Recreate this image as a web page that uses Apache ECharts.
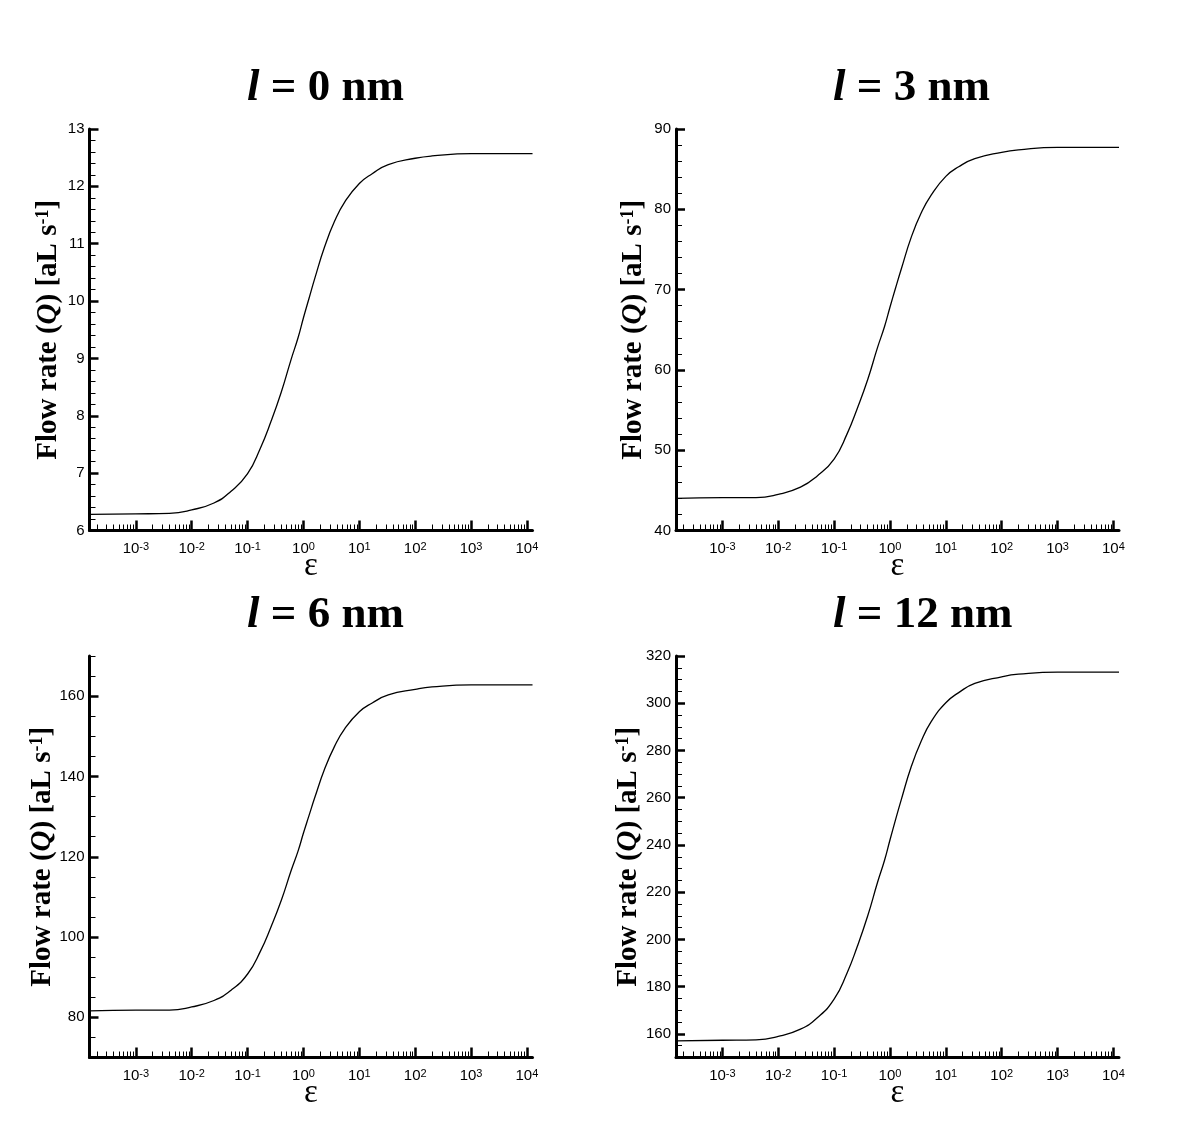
<!DOCTYPE html>
<html>
<head>
<meta charset="utf-8">
<title>Flow rate vs epsilon</title>
<script src="https://cdn.jsdelivr.net/npm/echarts@6/dist/echarts.min.js"></script>
<style>
  html, body { margin: 0; padding: 0; background: #fff; }
  #chart { width: 1200px; height: 1142px; }
</style>
</head>
<body>
<div id="chart"></div>
<script>
// epsilon samples
const epsilon = [1.5e-4, 1e-3, 4e-3, 0.01, 0.025, 0.05, 0.1, 0.17, 0.26, 0.4, 0.6, 0.8, 1, 1.26, 1.6, 2.4, 3.6, 5.5, 10, 17, 33, 100, 200, 1000, 12600]

// flow rate Q [aL s^-1] for each slip length l
const flowL0 = [6.28, 6.29, 6.30, 6.36, 6.48, 6.68, 6.99, 7.44, 7.89, 8.41, 8.98, 9.36, 9.71, 10.05, 10.40, 10.95, 11.39, 11.73, 12.05, 12.22, 12.38, 12.49, 12.53, 12.57, 12.57]
const flowL3 = [44.0, 44.1, 44.1, 44.5, 45.4, 46.8, 48.9, 52.0, 55.2, 58.8, 62.8, 65.4, 67.8, 70.2, 72.6, 76.5, 79.5, 81.8, 84.1, 85.3, 86.3, 87.1, 87.4, 87.7, 87.7]
const flowL6 = [81.6, 81.8, 81.8, 82.6, 84.2, 86.7, 90.8, 96.5, 102.4, 109.1, 116.5, 121.4, 125.9, 130.3, 134.8, 141.9, 147.5, 151.9, 156.1, 158.3, 160.3, 161.7, 162.3, 162.8, 162.8]
const flowL12 = [157.0, 157.3, 157.5, 158.9, 162.0, 166.8, 174.7, 185.7, 197.0, 210.0, 224.2, 233.5, 242.1, 250.7, 259.3, 273.1, 283.8, 292.3, 300.2, 304.5, 308.4, 311.2, 312.3, 313.2, 313.2]

const slipLengths = ['0', '3', '6', '12']

// x tick labels are powers of ten
const decades = [-3, -2, -1, 0, 1, 2, 3, 4]

// y axis ranges and labelled ticks
const yRange0 = [6, 13]
const yRange3 = [40, 90]
const yRange6 = [70, 170]
const yRange12 = [150, 320]
const yLabels0 = [6, 7, 8, 9, 10, 11, 12, 13]
const yLabels3 = [40, 50, 60, 70, 80, 90]
const yLabels6 = [80, 100, 120, 140, 160]
const yLabels12 = [160, 180, 200, 220, 240, 260, 280, 300, 320]
const yMinorStep = [0.2, 2, 5, 5]

const series = [flowL0, flowL3, flowL6, flowL12]
const yRanges = [yRange0, yRange3, yRange6, yRange12]
const yLabels = [yLabels0, yLabels3, yLabels6, yLabels12]

// layout
const xMin = -3.83
const xMax = 4.1
const panels = [
  { left: 89.5, top: 129, titleLeft: 242, titleTop: 61, nameGap: 26 },
  { left: 676, top: 129, titleLeft: 828, titleTop: 61, nameGap: 28 },
  { left: 89.5, top: 656, titleLeft: 242, titleTop: 588, nameGap: 32 },
  { left: 676, top: 656, titleLeft: 828, titleTop: 588, nameGap: 33 }
]
const plotW = 443
const plotH = 401.5

const sansFont = 'Liberation Sans'
const serifFont = 'Liberation Serif'

const minorDecadeTicks = []
for (let n = -4; n <= 4; n++) {
  for (let k = 2; k <= 9; k++) {
    const v = Math.log10(k * Math.pow(10, n))
    if (v > xMin && v < xMax) minorDecadeTicks.push(v)
  }
}

const minorTicksFor = (range, step) => {
  const out = []
  const count = Math.round((range[1] - range[0]) / step)
  for (let i = 0; i <= count; i++) {
    out.push(Math.round((range[0] + i * step) * 1000) / 1000)
  }
  return out
}

const axisLine = { show: true, onZero: false, lineStyle: { color: '#000', width: 3 } }

const option = {
  animation: false,
  backgroundColor: '#fff',
  title: [],
  grid: [],
  xAxis: [],
  yAxis: [],
  series: []
}

panels.forEach((p, i) => {
  option.title.push({
    text: '{i|l} = ' + slipLengths[i] + ' nm',
    left: p.titleLeft,
    top: p.titleTop,
    textStyle: {
      fontFamily: serifFont,
      fontWeight: 'bold',
      fontSize: 45,
      color: '#000',
      rich: {
        i: { fontFamily: serifFont, fontWeight: 'bold', fontStyle: 'italic', fontSize: 45, color: '#000' }
      }
    }
  })

  option.grid.push({ left: p.left, top: p.top, width: plotW, height: plotH, containLabel: false })

  // main x axis: line, decade ticks, labels, name
  option.xAxis.push({
    type: 'value',
    gridIndex: i,
    position: 'bottom',
    min: xMin,
    max: xMax,
    axisLine,
    splitLine: { show: false },
    axisTick: { show: true, inside: true, length: 10, customValues: decades, lineStyle: { color: '#000', width: 2.5 } },
    axisLabel: {
      customValues: decades,
      margin: 11,
      formatter: (v) => '{b|10}{s|' + Math.round(v) + '}',
      rich: {
        b: { fontFamily: sansFont, fontSize: 15, color: '#000', verticalAlign: 'bottom' },
        s: { fontFamily: sansFont, fontSize: 11, color: '#000', verticalAlign: 'top' }
      }
    },
    name: 'ε',
    nameLocation: 'middle',
    nameGap: 19,
    nameMoveOverlap: false,
    nameTextStyle: { fontFamily: serifFont, fontSize: 33, color: '#000' }
  })
  // minor x ticks
  option.xAxis.push({
    type: 'value',
    gridIndex: i,
    position: 'bottom',
    min: xMin,
    max: xMax,
    axisLine: { show: false, onZero: false },
    splitLine: { show: false },
    axisLabel: { show: false },
    axisTick: { show: true, inside: true, length: 6, customValues: minorDecadeTicks, lineStyle: { color: '#000', width: 1 } }
  })

  const range = yRanges[i]
  option.yAxis.push({
    type: 'value',
    gridIndex: i,
    position: 'left',
    min: range[0],
    max: range[1],
    axisLine,
    splitLine: { show: false },
    axisTick: { show: true, inside: true, length: 9, customValues: yLabels[i], lineStyle: { color: '#000', width: 2.5 } },
    axisLabel: { customValues: yLabels[i], margin: 5, fontFamily: sansFont, fontSize: 15, color: '#000' },
    name: 'Flow rate ({q|Q}) [aL s{s|-1}]',
    nameLocation: 'middle',
    nameRotate: 90,
    nameGap: p.nameGap,
    nameMoveOverlap: false,
    nameTextStyle: {
      fontFamily: serifFont,
      fontWeight: 'bold',
      fontSize: 29,
      color: '#000',
      rich: {
        q: { fontFamily: serifFont, fontWeight: 'bold', fontStyle: 'italic', fontSize: 29, color: '#000' },
        s: { fontFamily: serifFont, fontWeight: 'bold', fontSize: 18, color: '#000', verticalAlign: 'top' }
      }
    }
  })
  // minor y ticks
  option.yAxis.push({
    type: 'value',
    gridIndex: i,
    position: 'left',
    min: range[0],
    max: range[1],
    axisLine: { show: false, onZero: false },
    splitLine: { show: false },
    axisLabel: { show: false },
    axisTick: { show: true, inside: true, length: 6, customValues: minorTicksFor(range, yMinorStep[i]), lineStyle: { color: '#000', width: 1 } }
  })

  option.series.push({
    type: 'line',
    xAxisIndex: i * 2,
    yAxisIndex: i * 2,
    data: epsilon.map((e, j) => [Math.log10(e), series[i][j]]),
    symbol: 'none',
    smooth: 0.5,
    clip: true,
    lineStyle: { color: '#000', width: 1.3 }
  })
})

const chart = echarts.init(document.getElementById('chart'), null, { renderer: 'canvas' })
chart.setOption(option)
</script>
</body>
</html>
